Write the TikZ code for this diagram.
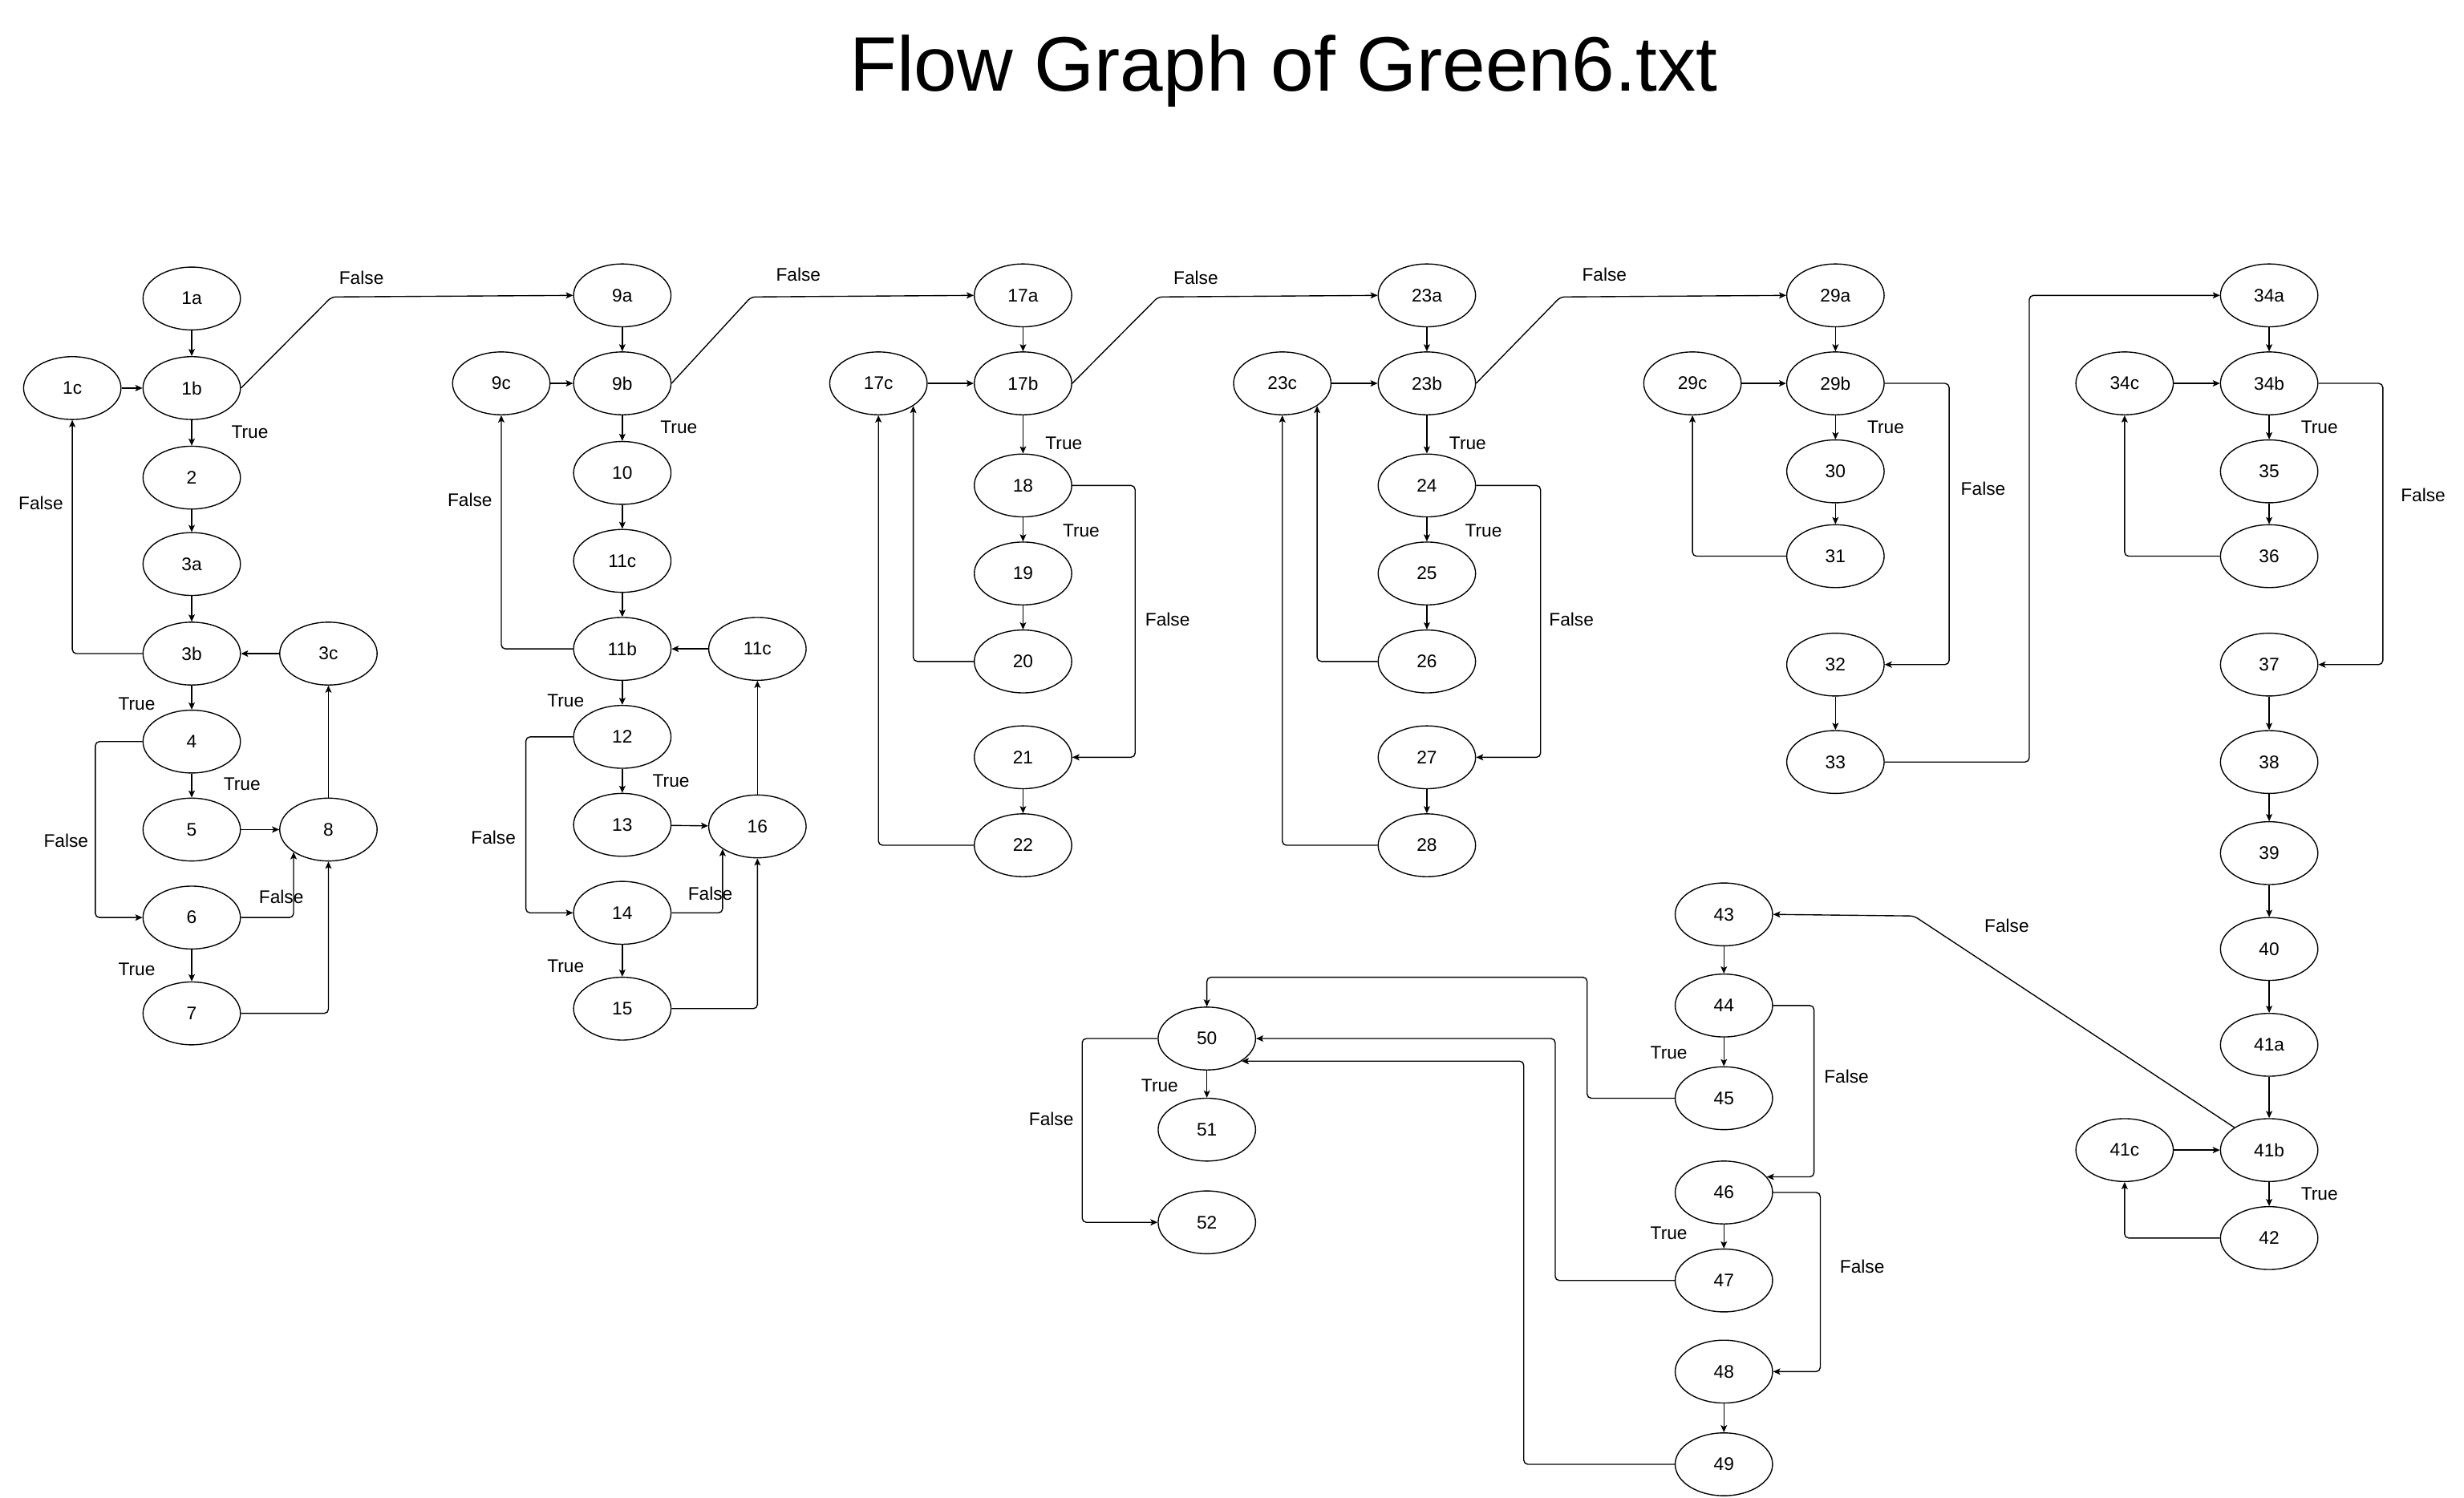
\documentclass[tikz,border=0pt]{standalone}
\usepackage{fontspec}
\setmainfont{Liberation Sans}
\usepackage{tikz}
\usetikzlibrary{shapes,arrows.meta,positioning,calc}

\begin{document}
\begin{tikzpicture}[x=0.02cm, y=-0.02cm,
        state/.style={ellipse, draw, thin, minimum width=1.24cm, minimum height=0.8cm, inner sep=0pt, font=\fontsize{6.6}{8}\selectfont},
        lbl/.style={inner sep=0pt, font=\fontsize{6.6}{8}\selectfont},
        arrow/.style={-{Stealth[length=2.6pt, width=2.3pt, inset=0.6pt]}, thin, rounded corners=1.5pt}]

        \useasboundingbox (0,0) rectangle (1568,953);
        \node[font=\fontsize{28}{34}\selectfont] (title) at (817,45) {Flow Graph of Green6.txt};

        \node[state] (n1a) at (122,190) {1a};
        \node[state] (n1b) at (122,247) {1b};
        \node[state] (n1c) at (46,247) {1c};
        \node[state] (n2) at (122,304) {2};
        \node[state] (n3a) at (122,359) {3a};
        \node[state] (n3b) at (122,416) {3b};
        \node[state] (n3c) at (209,416) {3c};
        \node[state] (n4) at (122,472) {4};
        \node[state] (n5) at (122,528) {5};
        \node[state] (n6) at (122,584) {6};
        \node[state] (n7) at (122,645) {7};
        \node[state] (n8) at (209,528) {8};

        \node[state] (n9a) at (396,188) {9a};
        \node[state] (n9b) at (396,244) {9b};
        \node[state] (n9c) at (319,244) {9c};
        \node[state] (n10) at (396,301) {10};
        \node[state] (n11c) at (396,357) {11c};
        \node[state] (n11b) at (396,413) {11b};
        \node[state] (n11d) at (482,413) {11c};
        \node[state] (n12) at (396,469) {12};
        \node[state] (n13) at (396,525) {13};
        \node[state] (n14) at (396,581) {14};
        \node[state] (n15) at (396,642) {15};
        \node[state] (n16) at (482,526) {16};

        \node[state] (n17a) at (651,188) {17a};
        \node[state] (n17b) at (651,244) {17b};
        \node[state] (n17c) at (559,244) {17c};
        \node[state] (n18) at (651,309) {18};
        \node[state] (n19) at (651,365) {19};
        \node[state] (n20) at (651,421) {20};
        \node[state] (n21) at (651,482) {21};
        \node[state] (n22) at (651,538) {22};

        \node[state] (n23a) at (908,188) {23a};
        \node[state] (n23b) at (908,244) {23b};
        \node[state] (n23c) at (816,244) {23c};
        \node[state] (n24) at (908,309) {24};
        \node[state] (n25) at (908,365) {25};
        \node[state] (n26) at (908,421) {26};
        \node[state] (n27) at (908,482) {27};
        \node[state] (n28) at (908,538) {28};

        \node[state] (n29a) at (1168,188) {29a};
        \node[state] (n29b) at (1168,244) {29b};
        \node[state] (n29c) at (1077,244) {29c};
        \node[state] (n30) at (1168,300) {30};
        \node[state] (n31) at (1168,354) {31};
        \node[state] (n32) at (1168,423) {32};
        \node[state] (n33) at (1168,485) {33};

        \node[state] (n34a) at (1444,188) {34a};
        \node[state] (n34b) at (1444,244) {34b};
        \node[state] (n34c) at (1352,244) {34c};
        \node[state] (n35) at (1444,300) {35};
        \node[state] (n36) at (1444,354) {36};
        \node[state] (n37) at (1444,423) {37};
        \node[state] (n38) at (1444,485) {38};
        \node[state] (n39) at (1444,543) {39};
        \node[state] (n40) at (1444,604) {40};
        \node[state] (n41a) at (1444,665) {41a};
        \node[state] (n41b) at (1444,732) {41b};
        \node[state] (n41c) at (1352,732) {41c};
        \node[state] (n42) at (1444,788) {42};

        \node[state] (n43) at (1097,582) {43};
        \node[state] (n44) at (1097,640) {44};
        \node[state] (n45) at (1097,699) {45};
        \node[state] (n46) at (1097,759) {46};
        \node[state] (n47) at (1097,815) {47};
        \node[state] (n48) at (1097,873) {48};
        \node[state] (n49) at (1097,932) {49};
        \node[state] (n50) at (768,661) {50};
        \node[state] (n51) at (768,719) {51};
        \node[state] (n52) at (768,778) {52};

        \draw[arrow] (n1a) -- (n1b);
        \draw[arrow] (n1c) -- (n1b);
        \draw[arrow] (n1b) -- (n2);
        \draw[arrow] (n2) -- (n3a);
        \draw[arrow] (n3a) -- (n3b);
        \draw[arrow] (n3c) -- (n3b);
        \draw[arrow] (n3b.west) -| (n1c.south);
        \draw[arrow] (n3b) -- (n4);
        \draw[arrow] (n4) -- (n5);
        \draw[arrow] (n4.west) -- ++(-30,0) |- (n6.west);
        \draw[arrow] (n5) -- (n8);
        \draw[arrow] (n6.east) -| (n8.south west);
        \draw[arrow] (n6) -- (n7);
        \draw[arrow] (n7.east) -| (n8.south);
        \draw[arrow] (n8) -- (n3c);
        \draw[arrow] (n1b.east) -- (211,189) -- (n9a.west);

        \draw[arrow] (n9a) -- (n9b);
        \draw[arrow] (n9c) -- (n9b);
        \draw[arrow] (n9b) -- (n10);
        \draw[arrow] (n10) -- (n11c);
        \draw[arrow] (n11c) -- (n11b);
        \draw[arrow] (n11d) -- (n11b);
        \draw[arrow] (n11b.west) -| (n9c.south);
        \draw[arrow] (n11b) -- (n12);
        \draw[arrow] (n12) -- (n13);
        \draw[arrow] (n12.west) -- ++(-30,0) |- (n14.west);
        \draw[arrow] (n13) -- (n16);
        \draw[arrow] (n14.east) -| (n16.south west);
        \draw[arrow] (n14) -- (n15);
        \draw[arrow] (n15.east) -| (n16.south);
        \draw[arrow] (n16) -- (n11d);
        \draw[arrow] (n9b.east) -- (478,189) -- (n17a.west);

        \draw[arrow] (n17a) -- (n17b);
        \draw[arrow] (n17c) -- (n17b);
        \draw[arrow] (n17b) -- (n18);
        \draw[arrow] (n18) -- (n19);
        \draw[arrow] (n19) -- (n20);
        \draw[arrow] (n18.east) -- ++(40,0) |- (n21.east);
        \draw[arrow] (n21) -- (n22);
        \draw[arrow] (n20.west) -| (n17c.south east);
        \draw[arrow] (n22.west) -| (n17c.south);
        \draw[arrow] (n17b.east) -- (737,189) -- (n23a.west);

        \draw[arrow] (n23a) -- (n23b);
        \draw[arrow] (n23c) -- (n23b);
        \draw[arrow] (n23b) -- (n24);
        \draw[arrow] (n24) -- (n25);
        \draw[arrow] (n25) -- (n26);
        \draw[arrow] (n24.east) -- ++(41,0) |- (n27.east);
        \draw[arrow] (n27) -- (n28);
        \draw[arrow] (n26.west) -| (n23c.south east);
        \draw[arrow] (n28.west) -| (n23c.south);
        \draw[arrow] (n23b.east) -- (993,189) -- (n29a.west);

        \draw[arrow] (n29a) -- (n29b);
        \draw[arrow] (n29c) -- (n29b);
        \draw[arrow] (n29b) -- (n30);
        \draw[arrow] (n30) -- (n31);
        \draw[arrow] (n31.west) -| (n29c.south);
        \draw[arrow] (n29b.east) -- ++(41,0) |- (n32.east);
        \draw[arrow] (n32) -- (n33);
        \draw[arrow] (n33.east) -- ++(92,0) |- (n34a.west);

        \draw[arrow] (n34a) -- (n34b);
        \draw[arrow] (n34c) -- (n34b);
        \draw[arrow] (n34b) -- (n35);
        \draw[arrow] (n35) -- (n36);
        \draw[arrow] (n36.west) -| (n34c.south);
        \draw[arrow] (n34b.east) -- ++(41,0) |- (n37.east);
        \draw[arrow] (n37) -- (n38);
        \draw[arrow] (n38) -- (n39);
        \draw[arrow] (n39) -- (n40);
        \draw[arrow] (n40) -- (n41a);
        \draw[arrow] (n41a) -- (n41b);
        \draw[arrow] (n41c) -- (n41b);
        \draw[arrow] (n41b) -- (n42);
        \draw[arrow] (n42.west) -| (n41c.south);
        \draw[arrow] (n41b.north west) -- (1218,583) -- (n43.east);

        \draw[arrow] (n43) -- (n44);
        \draw[arrow] (n44) -- (n45);
        \draw[arrow] (n44.east) -- ++(26,0) |- (n46.20);
        \draw[arrow] (n45.west) -| (1010,622) -| (n50.north);
        \draw[arrow] (n46) -- (n47);
        \draw[arrow] (n46.east) -- ++(30,0) |- (n48.east);
        \draw[arrow] (n47.west) -- ++(-76,0) |- (n50.east);
        \draw[arrow] (n48) -- (n49);
        \draw[arrow] (n49.west) -- ++(-96,0) |- (n50.south east);
        \draw[arrow] (n50) -- (n51);
        \draw[arrow] (n50.west) -- ++(-48,0) |- (n52.west);

        \node[lbl] (f1b) at (230,177) {False};
        \node[lbl] (t1b) at (159,275) {True};
        \node[lbl] (f3b) at (26,320) {False};
        \node[lbl] (t3b) at (87,448) {True};
        \node[lbl] (t4) at (154,499) {True};
        \node[lbl] (f4) at (42,535) {False};
        \node[lbl] (f6) at (179,571) {False};
        \node[lbl] (t6) at (87,617) {True};

        \node[lbl] (f9b) at (508,175) {False};
        \node[lbl] (t9b) at (432,272) {True};
        \node[lbl] (f11b) at (299,318) {False};
        \node[lbl] (t11b) at (360,446) {True};
        \node[lbl] (t12) at (427,497) {True};
        \node[lbl] (f12) at (314,533) {False};
        \node[lbl] (f14) at (452,569) {False};
        \node[lbl] (t14) at (360,615) {True};

        \node[lbl] (f17b) at (761,177) {False};
        \node[lbl] (t17b) at (677,282) {True};
        \node[lbl] (t18) at (688,338) {True};
        \node[lbl] (f18) at (743,394) {False};

        \node[lbl] (f23b) at (1021,175) {False};
        \node[lbl] (t23b) at (934,282) {True};
        \node[lbl] (t24) at (944,338) {True};
        \node[lbl] (f24) at (1000,394) {False};

        \node[lbl] (t29b) at (1200,272) {True};
        \node[lbl] (f29b) at (1262,311) {False};
        \node[lbl] (t34b) at (1476,272) {True};
        \node[lbl] (f34b) at (1542,315) {False};
        \node[lbl] (t41b) at (1476,760) {True};
        \node[lbl] (f41b) at (1277,589) {False};

        \node[lbl] (t44) at (1062,670) {True};
        \node[lbl] (f44) at (1175,685) {False};
        \node[lbl] (t46) at (1062,785) {True};
        \node[lbl] (f46) at (1185,806) {False};
        \node[lbl] (t50) at (738,691) {True};
        \node[lbl] (f50) at (669,712) {False};

    \end{tikzpicture}
\end{document}
